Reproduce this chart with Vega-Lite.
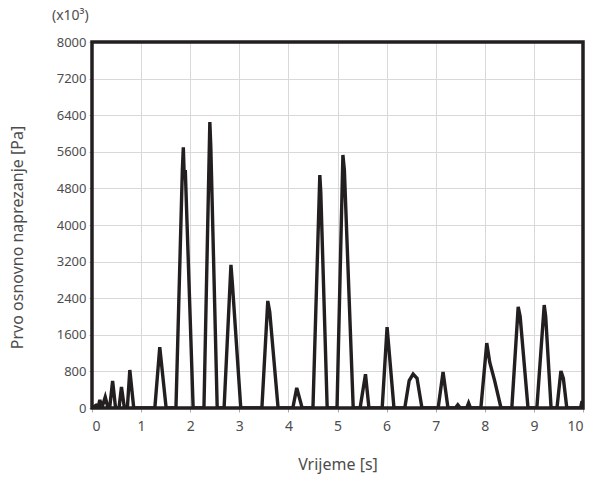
{
  "$schema": "https://vega.github.io/schema/vega-lite/v6.json",
  "width": 491,
  "height": 366,
  "autosize": "none",
  "padding": {"left": 92, "top": 42, "right": 10, "bottom": 74},
  "background": "white",
  "config": {
    "font": "Noto Sans"
  },
  "view": {"stroke": null},
  "title": {
    "text": "(x10³)",
    "anchor": "start",
    "frame": "group",
    "dx": -40,
    "offset": 13,
    "fontSize": 14,
    "fontWeight": "normal",
    "color": "#4d4d4d"
  },
  "encoding": {
    "x": {
      "field": "t",
      "type": "quantitative",
      "scale": {"domain": [0, 10], "nice": false, "zero": false},
      "axis": {
        "values": [0, 1, 2, 3, 4, 5, 6, 7, 8, 9, 10],
        "format": "d",
        "labelOverlap": false,
        "domain": false,
        "grid": true,
        "gridColor": "#d9d9d9",
        "gridWidth": 1,
        "tickSize": 4,
        "tickColor": "#aaaaaa",
        "labelFontSize": 14,
        "labelColor": "#4d4d4d",
        "labelPadding": 7,
        "title": "Vrijeme [s]",
        "titleFontSize": 16,
        "titleFontWeight": "normal",
        "titleColor": "#4d4d4d",
        "titlePadding": 23
      }
    },
    "y": {
      "field": "v",
      "type": "quantitative",
      "scale": {"domain": [0, 8000], "nice": false},
      "axis": {
        "values": [0, 800, 1600, 2400, 3200, 4000, 4800, 5600, 6400, 7200, 8000],
        "format": "d",
        "labelOverlap": false,
        "domain": false,
        "grid": true,
        "gridColor": "#d9d9d9",
        "gridWidth": 1,
        "tickSize": 3,
        "tickColor": "#aaaaaa",
        "labelFontSize": 13,
        "labelColor": "#4d4d4d",
        "labelPadding": 3,
        "title": "Prvo osnovno naprezanje [Pa]",
        "titleFontSize": 16,
        "titleFontWeight": "normal",
        "titleColor": "#4d4d4d",
        "titleX": -67,
        "titleY": 195
      }
    }
  },
  "layer": [
    {
      "data": {
        "values": [
          {"t": 0, "v": 0}, {"t": 0.08, "v": 60}, {"t": 0.12, "v": 0}, {"t": 0.16, "v": 175}, {"t": 0.2, "v": 0},
          {"t": 0.27, "v": 240}, {"t": 0.32, "v": 30}, {"t": 0.36, "v": 0}, {"t": 0.42, "v": 590}, {"t": 0.48, "v": 0},
          {"t": 0.55, "v": 0}, {"t": 0.6, "v": 460}, {"t": 0.66, "v": 0}, {"t": 0.72, "v": 0}, {"t": 0.77, "v": 830}, {"t": 0.85, "v": 0},
          {"t": 1.28, "v": 0}, {"t": 1.38, "v": 1330}, {"t": 1.51, "v": 0},
          {"t": 1.71, "v": 0}, {"t": 1.84, "v": 5200}, {"t": 1.86, "v": 5700}, {"t": 1.88, "v": 5000}, {"t": 1.9, "v": 5200}, {"t": 2.06, "v": 0},
          {"t": 2.28, "v": 0}, {"t": 2.4, "v": 6250}, {"t": 2.42, "v": 5700}, {"t": 2.55, "v": 0},
          {"t": 2.69, "v": 0}, {"t": 2.83, "v": 3130}, {"t": 2.86, "v": 2700}, {"t": 3.03, "v": 0},
          {"t": 3.46, "v": 0}, {"t": 3.58, "v": 2340}, {"t": 3.62, "v": 2100}, {"t": 3.79, "v": 0},
          {"t": 4.09, "v": 0}, {"t": 4.17, "v": 440}, {"t": 4.28, "v": 0},
          {"t": 4.5, "v": 0}, {"t": 4.64, "v": 5090}, {"t": 4.66, "v": 4700}, {"t": 4.79, "v": 0},
          {"t": 4.99, "v": 0}, {"t": 5.11, "v": 5530}, {"t": 5.14, "v": 5200}, {"t": 5.32, "v": 0},
          {"t": 5.46, "v": 0}, {"t": 5.57, "v": 740}, {"t": 5.64, "v": 0},
          {"t": 5.91, "v": 0}, {"t": 6.01, "v": 1770}, {"t": 6.15, "v": 0},
          {"t": 6.37, "v": 0}, {"t": 6.46, "v": 600}, {"t": 6.54, "v": 740}, {"t": 6.62, "v": 650}, {"t": 6.72, "v": 0},
          {"t": 7.05, "v": 0}, {"t": 7.15, "v": 790}, {"t": 7.25, "v": 0},
          {"t": 7.4, "v": 0}, {"t": 7.45, "v": 70}, {"t": 7.5, "v": 0}, {"t": 7.63, "v": 0}, {"t": 7.67, "v": 110}, {"t": 7.71, "v": 0},
          {"t": 7.92, "v": 0}, {"t": 8.04, "v": 1420}, {"t": 8.1, "v": 1000}, {"t": 8.2, "v": 600}, {"t": 8.33, "v": 0},
          {"t": 8.55, "v": 0}, {"t": 8.68, "v": 2210}, {"t": 8.72, "v": 2000}, {"t": 8.88, "v": 0},
          {"t": 9.06, "v": 0}, {"t": 9.21, "v": 2250}, {"t": 9.24, "v": 2000}, {"t": 9.35, "v": 0},
          {"t": 9.47, "v": 0}, {"t": 9.55, "v": 810}, {"t": 9.6, "v": 650}, {"t": 9.67, "v": 0},
          {"t": 9.95, "v": 0}, {"t": 9.98, "v": 150}, {"t": 10, "v": 0}
        ]
      },
      "mark": {"type": "line", "color": "#231f20", "strokeWidth": 3.4, "clip": true}
    },
    {
      "data": {"values": [{"t": 0, "t2": 10, "v": 0, "v2": 8000}]},
      "mark": {"type": "rect", "fill": null, "fillOpacity": 0, "stroke": "#231f20", "strokeWidth": 3.5, "clip": false},
      "encoding": {
        "x2": {"field": "t2"},
        "y2": {"field": "v2"}
      }
    }
  ]
}
